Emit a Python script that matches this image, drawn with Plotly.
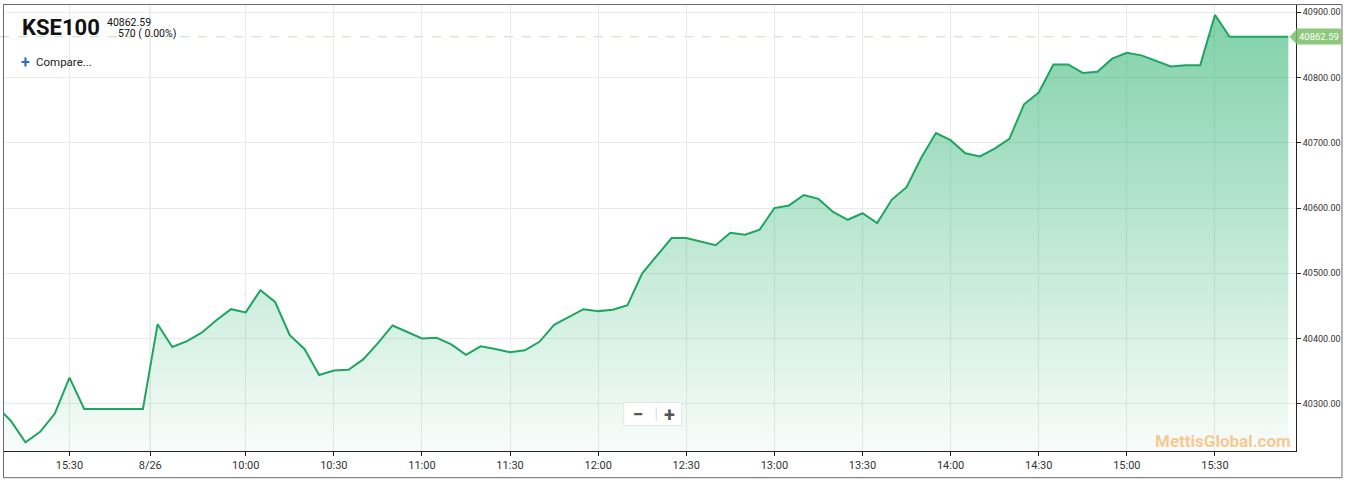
import plotly.graph_objects as go

# ---------------- data ----------------
prev_day_times = ["15:05", "15:10", "15:15", "15:20", "15:25", "15:30", "15:35",
                  "15:40", "15:45", "15:50", "15:55"]
prev_day_values = [40297, 40274, 40241, 40257, 40285, 40340, 40292,
                   40292, 40292, 40292, 40292]

day_times = [f"{h}:{m:02d}" for h in range(9, 16) for m in range(0, 60, 5)
             if (h, m) >= (9, 30)]
day_values = [
    40422, 40387, 40396, 40409, 40428, 40445,                      # 9:30-9:55
    40440, 40474, 40456, 40405, 40384, 40344,                      # 10:00-10:25
    40351, 40352, 40368, 40393, 40420, 40410,                      # 10:30-10:55
    40400, 40401, 40391, 40375, 40388, 40384,                      # 11:00-11:25
    40379, 40382, 40395, 40421, 40433, 40445,                      # 11:30-11:55
    40442, 40444, 40451, 40500, 40527, 40554,                      # 12:00-12:25
    40554, 40549, 40543, 40562, 40559, 40567,                      # 12:30-12:55
    40600, 40604, 40620, 40614, 40594, 40582,                      # 13:00-13:25
    40592, 40577, 40613, 40632, 40677, 40715,                      # 13:30-13:55
    40704, 40684, 40679, 40691, 40706, 40759,                      # 14:00-14:25
    40777, 40820, 40820, 40807, 40809, 40829,                      # 14:30-14:55
    40838, 40834, 40826, 40817, 40819, 40819,                      # 15:00-15:25
    40896, 40862.59, 40862.59, 40862.59, 40862.59, 40862.59,       # 15:30-15:55
]

day_label = "8/26"
tick_labels = ["15:30", "8/26", "10:00", "10:30", "11:00", "11:30", "12:00",
               "12:30", "13:00", "13:30", "14:00", "14:30", "15:00", "15:30"]
y_ticks = [40300, 40400, 40500, 40600, 40700, 40800, 40900]

title = "KSE100"
last_value = 40862.59
change_text = "570 ( 0.00%)"
watermark = "MettisGlobal.com"

# ---------------- build ----------------
all_values = prev_day_values + day_values
x_idx = list(range(len(all_values)))
n_prev = len(prev_day_times)

tick_pos = [prev_day_times.index(tick_labels[0]), n_prev - 0.5]
tick_pos += [n_prev + day_times.index(t) for t in tick_labels[2:]]

# layout geometry (pixels)
W, H = 1349, 484
L, R, T, B = 4, 1296.5, 5, 451
pw, ph = R - L, B - T


def px(x):
    return (x - L) / pw


def py(y):
    return (B - y) / ph


y_min, y_max = 40227.6, 40911.2
x_min, x_max = 0.54, 88.52

line_color = "#1ea560"

fig = go.Figure()
fig.add_trace(go.Scatter(
    x=x_idx, y=all_values, mode="lines",
    line=dict(color=line_color, width=2),
    fill="tozeroy",
    fillgradient=dict(type="vertical", start=y_min, stop=max(all_values),
                      colorscale=[[0, "rgba(20,170,100,0.03)"],
                                  [1, "rgba(20,170,95,0.54)"]]),
    hoverinfo="skip", showlegend=False,
))

shapes = [
    # outer frame
    dict(type="rect", xref="paper", yref="paper", x0=px(3.5), x1=px(1342.5),
         y0=py(477.7), y1=py(4.5), line=dict(color="#6a6a6a", width=1),
         fillcolor="rgba(0,0,0,0)", layer="above"),
    # day separator
    dict(type="line", xref="x", yref="paper", x0=tick_pos[1], x1=tick_pos[1],
         y0=0, y1=1, line=dict(color="#cfcfcf", width=1), layer="below"),
    # last value dashed line
    dict(type="line", xref="paper", yref="y", x0=px(0), x1=1,
         y0=last_value, y1=last_value,
         line=dict(color="#c6dcba", width=1, dash="dash"), layer="below"),
    # price label arrow
    dict(type="path", xref="paper", yref="paper",
         path=f"M {px(1290)} {py(36.7)} L {px(1297)} {py(29.5)} "
              f"L {px(1297)} {py(43.9)} Z",
         fillcolor="#8dc97c", line=dict(width=0), layer="above"),
    # zoom control box
    dict(type="rect", xref="paper", yref="paper", x0=px(624), x1=px(682),
         y0=py(425.5), y1=py(402.5), fillcolor="white",
         line=dict(color="#e4e4e4", width=1), layer="above"),
    dict(type="line", xref="paper", yref="paper", x0=px(656.5), x1=px(656.5),
         y0=py(421), y1=py(407), line=dict(color="#d8d8d8", width=1),
         layer="above"),
]

annotations = [
    dict(text=f"<b>{title}</b>", x=px(20.5), y=py(27), xanchor="left",
         yanchor="middle", font=dict(family="Roboto", size=22, color="#111")),
    dict(text=f"{last_value:.2f}", x=px(105), y=py(22.5), xanchor="left",
         yanchor="middle", font=dict(family="Roboto", size=10.5, color="#111")),
    dict(text=change_text, x=px(116), y=py(34), xanchor="left",
         yanchor="middle", font=dict(family="Roboto", size=10.5, color="#111")),
    dict(text="<b>+</b>", x=px(19.5), y=py(62), xanchor="left",
         yanchor="middle", font=dict(family="Roboto", size=16, color="#2d6fc2")),
    dict(text="Compare...", x=px(34.5), y=py(62), xanchor="left",
         yanchor="middle", font=dict(family="Roboto", size=11.5, color="#222")),
    dict(text=f"{last_value:.2f}", x=px(1297), y=py(36.7), xanchor="left",
         yanchor="middle", bgcolor="#8dc97c", borderpad=2,
         font=dict(family="Roboto", size=9.5, color="white")),
    dict(text="<b>−</b>", x=px(639), y=py(414.5), xanchor="center",
         yanchor="middle", font=dict(family="Roboto", size=19, color="#555")),
    dict(text="<b>+</b>", x=px(670), y=py(414.5), xanchor="center",
         yanchor="middle", font=dict(family="Roboto", size=20, color="#555")),
    dict(text=f"<b>{watermark}</b>", x=px(1293), y=py(441), xanchor="right",
         yanchor="middle",
         font=dict(family="Roboto", size=17, color="rgba(246,192,125,0.85)")),
]
for a in annotations:
    a.update(xref="paper", yref="paper", showarrow=False)

fig.update_layout(
    width=W, height=H,
    margin=dict(l=L, r=W - R, t=T, b=H - B, pad=0),
    paper_bgcolor="white", plot_bgcolor="white",
    font=dict(family="Roboto", color="#333"),
    shapes=shapes, annotations=annotations,
    xaxis=dict(range=[x_min, x_max], tickvals=tick_pos, ticktext=tick_labels,
               showgrid=True, gridcolor="#eaeaea", gridwidth=1,
               showline=True, linecolor="#222", linewidth=1,
               ticks="outside", ticklen=4, tickcolor="#222",
               tickfont=dict(family="Roboto", size=11, color="#333"),
               zeroline=False, fixedrange=True),
    yaxis=dict(range=[y_min, y_max], side="right", tickvals=y_ticks,
               tickformat=".2f", showgrid=True, gridcolor="#eaeaea",
               showline=True, linecolor="#222", linewidth=1,
               ticks="outside", ticklen=4, tickcolor="#222",
               tickfont=dict(family="Roboto", size=9, color="#333"),
               zeroline=False, fixedrange=True),
)

fig.write_html("out.html", config=dict(displayModeBar=False),
               post_script="document.body.style.margin='0';"
                           "document.body.style.overflow='hidden';")
